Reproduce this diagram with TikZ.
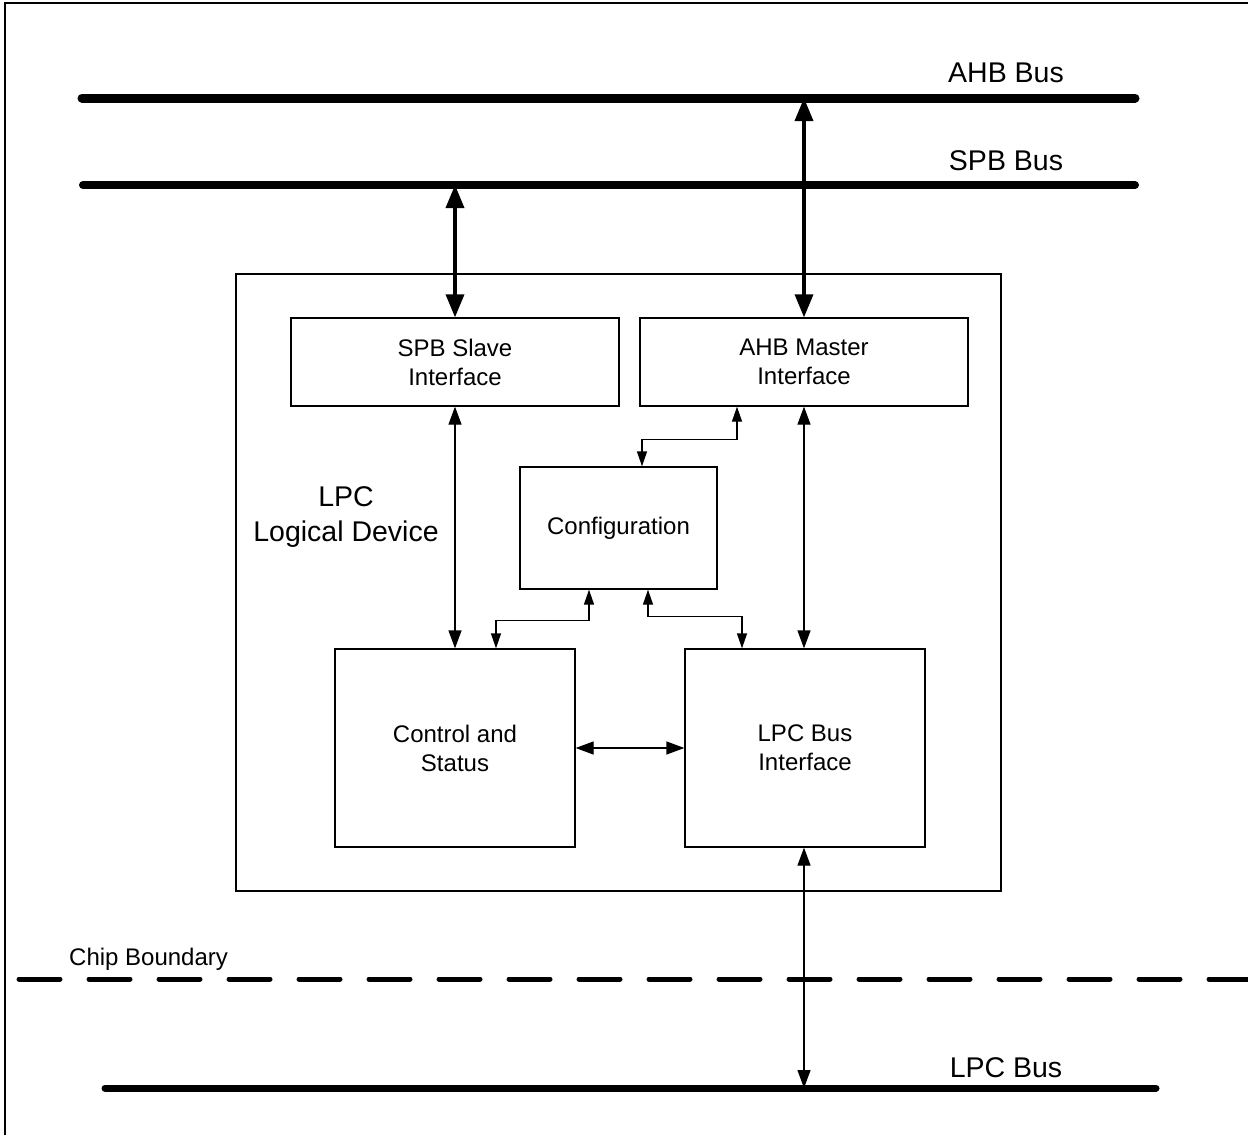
\documentclass[tikz,border=0pt]{standalone}
\usepackage{fontspec}
\setmainfont{Liberation Sans}
\usetikzlibrary{arrows.meta,calc}
\begin{document}
\begin{tikzpicture}[x=1pt,y=-1pt,
  blk/.style={draw=black,line width=1.3pt,minimum width=#1,align=center,inner sep=0pt,font=\fontsize{24}{29}\selectfont},
  busline/.style={line width=8pt,line cap=round},
  thickarr/.style={line width=3.5pt,{Triangle[length=23pt,width=18pt]}-{Triangle[length=23pt,width=18pt]}},
  thinarr/.style={line width=1.3pt,{Triangle[length=18pt,width=13pt]}-{Triangle[length=18pt,width=13pt]}},
  smallarr/.style={line width=1.3pt,{Triangle[length=15pt,width=10pt]}-{Triangle[length=15pt,width=10pt]}},
  buslabel/.style={anchor=base,inner sep=0pt,font=\fontsize{28.5}{34}\selectfont}
]
\useasboundingbox (0,0) rectangle (1248,1135);
\clip (0,0) rectangle (1248,1135);
% outer frame (only left and top visible)
\draw[line width=2.5pt] (5,1200) -- (5,3) -- (1300,3);

% buses
\coordinate (ahbL) at (82,98);  \coordinate (ahbR) at (1135,98);
\coordinate (spbL) at (83,185); \coordinate (spbR) at (1135,185);
\coordinate (lpcL) at (105,1088); \coordinate (lpcR) at (1156,1088);
\draw[busline,line width=9pt] (ahbL) -- (ahbR);
\draw[busline] (spbL) -- (spbR);
\draw[busline,line width=7pt] (lpcL) -- (lpcR);
\node[buslabel] (ahblab) at (1006,82) {AHB Bus};
\node[buslabel] (spblab) at (1006,170) {SPB Bus};
\node[buslabel] (lpclab) at (1006,1077) {LPC Bus};

% chip boundary
\coordinate (cbL) at (19,979); \coordinate (cbR) at (1300,979);
\draw[line width=5pt,line cap=round,dash pattern=on 41pt off 29pt] (cbL) -- (cbR);
\node[anchor=base west,inner sep=0pt,font=\fontsize{24}{29}\selectfont] (cblab) at (69,965) {Chip Boundary};

% logical device container
\node[draw=black,line width=1.3pt,minimum width=765pt,minimum height=617pt,inner sep=0pt] (dev) at (618.5,582.5) {};
\node[align=center,inner sep=0pt,font=\fontsize{28.5}{35}\selectfont] (devlab) at (346,517) {LPC\\Logical Device};

% blocks
\node[blk=328pt,minimum height=88pt] (spb) at (455,362) {SPB Slave\\Interface};
\node[blk=328pt,minimum height=88pt] (ahb) at (804,362) {AHB Master\\Interface};
\node[blk=197pt,minimum height=122pt] (cfg) at (618.5,528) {Configuration};
\node[blk=240pt,minimum height=198pt] (ctrl) at (455,748) {Control and\\Status};
\node[blk=240pt,minimum height=198pt] (lpcif) at (805,748) {LPC Bus\\Interface};

% thick bus connections
\draw[thickarr] (spb.south |- spbL) -- (spb.north);
\draw[thickarr] (ahb.south |- ahbL) -- (ahb.north);

% thin connections
\draw[thinarr] (spb.south) -- (ctrl.north);
\draw[thinarr] (ahb.south) -- (ahb.south |- lpcif.north);
\draw[thinarr] (ctrl.east) -- (lpcif.west);
\draw[thinarr] (lpcif.south -| ahb.south) -- (ahb.south |- lpcL);

% configuration links
\draw[smallarr] ([xshift=-67pt]ahb.south) -- ++(0,33) -| ([xshift=23.5pt]cfg.north);
\draw[smallarr] ([xshift=-29.5pt]cfg.south) -- ++(0,31) -| ([xshift=41pt]ctrl.north);
\draw[smallarr] ([xshift=29.5pt]cfg.south) -- ++(0,27) -| ([xshift=-63pt]lpcif.north);
\end{tikzpicture}
\end{document}
